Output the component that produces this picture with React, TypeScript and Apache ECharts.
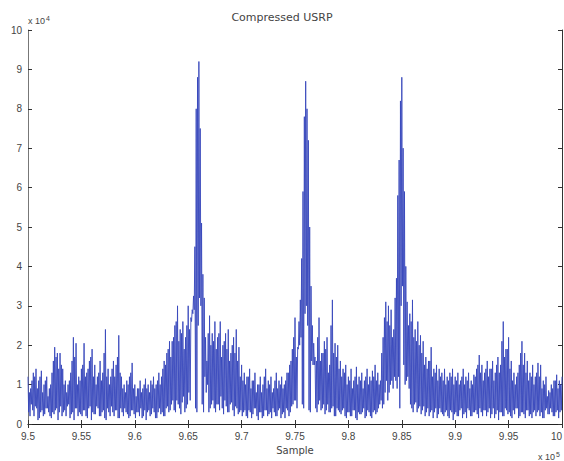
import { useEffect, useRef } from "react";
import * as echarts from "echarts";

const chartTitle = "Compressed USRP";
const xAxisName = "Sample";
// x positions are in units of 10^3 samples (labels shown as ×10^5)
const sampleStart = 950;
const sampleStep = 0.25;
const xMin = 950;
const xMax = 1000;
const xInterval = 5;
const yMin = 0;
const yMax = 10;
const yInterval = 1;

// main upper swings of the signal (×10^4), one per sample step
const highs = [
  1.2, 0.9, 1.3, 1.4, 1.1, 1.35, 1.0, 1.2, 0.9, 1.3,
  1.95, 1.8, 1.8, 1.4, 1.1, 1.0, 1.3, 2.2, 2.05, 1.2,
  1.4, 2.05, 1.3, 1.6, 1.9, 1.5, 1.2, 1.6, 1.3, 2.4,
  1.4, 1.2, 1.6, 1.5, 2.25, 1.2, 1.0, 1.1, 1.2, 1.55,
  1.0, 0.9, 1.1, 0.9, 1.15, 1.0, 1.1, 1.2, 1.0, 1.3,
  1.2, 1.6, 1.8, 2.1, 2.1, 2.5, 3.0, 2.4, 2.6, 2.2,
  3.0, 2.7, 3.25, 8.0, 9.2, 5.1, 3.2, 1.6, 2.75, 2.3,
  2.6, 2.2, 2.6, 2.0, 2.3, 2.4, 1.8, 2.2, 2.4, 1.95,
  1.5, 1.3, 1.2, 1.4, 1.1, 1.3, 1.0, 1.2, 1.0, 1.4,
  1.1, 1.2, 0.9, 1.3, 1.1, 1.2, 1.0, 1.3, 1.5, 1.9,
  2.7, 1.95, 3.15, 5.9, 8.7, 7.2, 3.5, 2.05, 1.6, 2.7,
  1.8, 2.1, 2.2, 1.5, 3.15, 2.05, 2.0, 1.6, 1.4, 1.5,
  1.2, 1.4, 1.1, 1.45, 1.2, 1.3, 1.1, 1.4, 1.2, 1.35,
  1.5, 1.3, 1.1, 2.2, 3.1, 3.0, 2.9, 2.4, 3.7, 6.7,
  8.8, 5.9, 3.1, 2.8, 3.15, 2.4, 2.6, 2.25, 2.1, 1.7,
  1.6, 1.95, 1.4, 1.5, 1.4, 1.3, 1.4, 1.2, 1.3, 1.4,
  1.2, 1.3, 1.1, 1.4, 1.2, 1.3, 1.1, 1.25, 1.4, 1.75,
  1.5, 1.3, 1.6, 1.4, 1.6, 1.3, 1.7, 1.5, 2.6, 1.9,
  2.2, 1.6, 1.3, 1.2, 1.5, 2.1, 1.8, 1.6, 1.3, 1.5,
  1.2, 1.55, 1.5, 1.1, 1.2, 0.85, 1.0, 1.1, 1.25, 1.1,
  1.2,
];

// first lower swing after each high (×10^4)
const lows = [
  0.3, 0.5, 0.2, 0.4, 0.15, 0.35, 0.25, 0.4, 0.2, 0.3,
  0.35, 0.1, 0.45, 0.3, 0.2, 0.5, 0.25, 0.1, 0.4, 0.3,
  0.2, 0.35, 0.15, 0.45, 0.3, 0.25, 0.4, 0.2, 0.35, 0.1,
  0.3, 0.45, 0.2, 0.35, 0.15, 0.3, 0.4, 0.25, 0.2, 0.35,
  0.15, 0.3, 0.4, 0.2, 0.1, 0.35, 0.25, 0.3, 0.15, 0.4,
  0.3, 0.2, 0.45, 0.35, 0.6, 0.3, 0.5, 0.25, 0.7, 0.4,
  0.8, 2.6, 2.9, 0.3, 3.2, 0.5, 1.2, 1.0, 0.4, 0.6,
  0.3, 0.5, 0.7, 0.25, 0.45, 0.3, 0.55, 0.2, 0.4, 0.3,
  0.2, 0.35, 0.15, 0.3, 0.25, 0.4, 0.1, 0.3, 0.2, 0.35,
  0.25, 0.15, 0.3, 0.2, 0.4, 0.25, 0.15, 0.35, 0.3, 0.5,
  0.6, 1.9, 2.2, 0.4, 3.0, 0.35, 1.6, 1.5, 0.3, 0.6,
  0.4, 0.25, 0.5, 0.3, 0.45, 0.2, 0.35, 0.25, 0.4, 0.15,
  0.3, 0.2, 0.35, 0.1, 0.25, 0.3, 0.15, 0.35, 0.2, 0.3,
  0.25, 0.4, 0.6, 0.5, 1.1, 0.8, 1.1, 1.2, 0.9, 0.4,
  3.5, 1.0, 1.2, 0.5, 0.3, 0.55, 0.4, 0.25, 0.45, 0.3,
  0.2, 0.35, 0.3, 0.15, 0.4, 0.25, 0.3, 0.2, 0.35, 0.1,
  0.3, 0.2, 0.4, 0.25, 0.15, 0.35, 0.2, 0.3, 0.25, 0.4,
  0.2, 0.35, 0.3, 0.15, 0.4, 0.25, 0.1, 0.3, 0.2, 0.35,
  0.3, 0.15, 0.25, 0.4, 0.2, 0.3, 0.15, 0.35, 0.25, 0.3,
  0.2, 0.35, 0.3, 0.15, 0.4, 0.25, 0.3, 0.2, 0.35, 0.3,
];

// secondary upper swings between main highs (×10^4)
const mids = [
  0.8, 1.1, 1.2, 0.9, 1.2, 0.8, 1.1, 0.7, 1.0, 1.6,
  1.7, 1.4, 1.5, 1.0, 0.8, 1.1, 1.6, 1.7, 1.0, 1.1,
  1.5, 1.2, 1.4, 1.7, 1.2, 1.0, 1.3, 1.1, 1.8, 1.2,
  1.0, 1.4, 1.2, 1.7, 1.3, 0.9, 0.8, 1.0, 1.3, 0.9,
  0.7, 0.9, 0.8, 1.0, 0.9, 0.8, 1.0, 0.9, 1.1, 1.0,
  1.4, 1.5, 1.9, 1.7, 2.2, 2.6, 2.1, 2.3, 1.9, 2.5,
  2.4, 2.9, 4.5, 8.8, 7.5, 3.8, 2.2, 2.3, 2.0, 2.1,
  1.9, 2.3, 1.7, 2.1, 1.9, 1.6, 2.0, 1.8, 1.6, 1.2,
  1.1, 1.0, 1.2, 0.9, 1.1, 0.8, 1.0, 0.8, 1.2, 0.9,
  1.0, 0.8, 1.1, 0.9, 1.0, 0.9, 1.1, 1.3, 1.6, 2.2,
  1.7, 2.6, 4.2, 7.8, 8.0, 5.0, 2.5, 1.7, 2.2, 1.6,
  1.8, 1.9, 1.3, 2.5, 1.8, 1.7, 1.4, 1.2, 1.3, 1.0,
  1.1, 0.9, 1.2, 1.0, 1.1, 0.9, 1.2, 1.0, 1.1, 1.2,
  1.1, 1.0, 1.8, 2.7, 2.6, 2.5, 2.2, 3.2, 5.8, 8.2,
  7.0, 4.0, 2.5, 2.6, 2.2, 2.1, 2.0, 1.8, 1.5, 1.4,
  1.6, 1.2, 1.3, 1.1, 1.2, 1.1, 1.0, 1.1, 1.2, 1.0,
  1.1, 1.0, 1.2, 1.0, 1.1, 0.9, 1.0, 1.2, 1.5, 1.3,
  1.1, 1.4, 1.2, 1.4, 1.1, 1.5, 1.3, 2.1, 1.7, 1.9,
  1.4, 1.1, 1.0, 1.3, 1.8, 1.5, 1.3, 1.1, 1.2, 1.0,
  1.3, 1.2, 0.9, 1.0, 0.7, 0.8, 0.9, 1.1, 0.9, 1.0,
];

// second lower swing after each secondary high (×10^4)
const lows2 = [
  0.2, 0.35, 0.45, 0.1, 0.3, 0.2, 0.4, 0.3, 0.15, 0.25,
  0.4, 0.3, 0.2, 0.35, 0.45, 0.15, 0.3, 0.4, 0.2, 0.25,
  0.35, 0.2, 0.4, 0.1, 0.25, 0.45, 0.2, 0.3, 0.15, 0.4,
  0.2, 0.3, 0.35, 0.15, 0.4, 0.2, 0.3, 0.15, 0.35, 0.25,
  0.3, 0.2, 0.15, 0.35, 0.3, 0.2, 0.4, 0.15, 0.3, 0.25,
  0.2, 0.4, 0.3, 0.5, 0.35, 0.6, 0.4, 0.55, 0.3, 0.5,
  0.6, 2.8, 0.4, 2.5, 3.0, 0.3, 0.8, 0.3, 0.5, 0.4,
  0.5, 0.35, 0.4, 0.6, 0.3, 0.5, 0.35, 0.45, 0.25, 0.35,
  0.3, 0.2, 0.35, 0.15, 0.4, 0.2, 0.3, 0.15, 0.35, 0.2,
  0.3, 0.4, 0.2, 0.35, 0.15, 0.3, 0.4, 0.2, 0.45, 0.6,
  0.4, 2.0, 0.5, 2.8, 2.5, 0.3, 1.5, 0.4, 0.5, 0.35,
  0.5, 0.35, 0.3, 0.4, 0.2, 0.4, 0.3, 0.35, 0.2, 0.3,
  0.2, 0.35, 0.15, 0.3, 0.25, 0.4, 0.2, 0.3, 0.15, 0.35,
  0.3, 0.5, 0.4, 0.8, 0.6, 1.0, 0.9, 1.1, 1.2, 3.0,
  1.5, 1.1, 0.9, 0.4, 0.5, 0.3, 0.45, 0.35, 0.2, 0.4,
  0.3, 0.15, 0.4, 0.25, 0.3, 0.2, 0.35, 0.15, 0.3, 0.25,
  0.2, 0.35, 0.15, 0.3, 0.4, 0.2, 0.3, 0.35, 0.15, 0.3,
  0.35, 0.2, 0.4, 0.25, 0.15, 0.35, 0.3, 0.2, 0.4, 0.25,
  0.2, 0.35, 0.4, 0.15, 0.3, 0.25, 0.35, 0.2, 0.15, 0.35,
  0.3, 0.2, 0.15, 0.35, 0.25, 0.4, 0.2, 0.3, 0.15, 0.35,
];

const FONT = "'Liberation Sans', Arial, sans-serif";
const WIDE_FONT = "'DejaVu Sans', Verdana, sans-serif";

export default function App() {
  const ref = useRef<HTMLDivElement>(null);

  useEffect(() => {
    if (!ref.current) return;
    const chart = echarts.init(ref.current, undefined, { renderer: "svg" });

    const signal: [number, number][] = [];
    const q = sampleStep / 4;
    highs.forEach((h, i) => {
      const x = sampleStart + i * sampleStep;
      signal.push([x, h]);
      if (i < lows.length) {
        signal.push([x + q, lows[i]]);
        signal.push([x + 2 * q, mids[i]]);
        signal.push([x + 3 * q, lows2[i]]);
      }
    });

    const labelStyle = { fontSize: 10, color: "#444", fontFamily: FONT };
    const supRich = {
      a: { fontSize: 9, fill: "#444", fontFamily: FONT },
      b: { fontSize: 7, fill: "#444", fontFamily: FONT, verticalAlign: "top", padding: [0, 0, 5, 1] },
    };

    chart.setOption({
      animation: false,
      backgroundColor: "#fff",
      title: {
        text: chartTitle,
        left: "center",
        top: 7,
        textStyle: { fontSize: 11, fontWeight: "normal", color: "#444", fontFamily: WIDE_FONT },
      },
      grid: { left: 28, right: 2, top: 30, bottom: 37, containLabel: false, outerBoundsMode: "none" },
      xAxis: [
        {
          type: "value",
          min: xMin,
          max: xMax,
          interval: xInterval,
          name: xAxisName,
          nameLocation: "middle",
          nameGap: 21,
          nameTextStyle: { fontSize: 10, color: "#444", fontFamily: WIDE_FONT },
          axisLine: { show: true, lineStyle: { color: "#666", width: 1 } },
          axisTick: { show: true, inside: true, length: 4, lineStyle: { color: "#333" } },
          axisLabel: {
            ...labelStyle,
            margin: 7,
            alignMaxLabel: "right",
            formatter: (v: number) => String(v / 100),
          },
          splitLine: { show: false },
        },
        {
          type: "value",
          position: "top",
          min: xMin,
          max: xMax,
          interval: xInterval,
          axisLine: { show: true, lineStyle: { color: "#222", width: 1 } },
          axisTick: { show: true, inside: true, length: 4, lineStyle: { color: "#333" } },
          axisLabel: { show: false },
          splitLine: { show: false },
        },
      ],
      yAxis: [
        {
          type: "value",
          min: yMin,
          max: yMax,
          interval: yInterval,
          axisLine: { show: true, lineStyle: { color: "#777", width: 1 } },
          axisTick: { show: true, inside: true, length: 4, lineStyle: { color: "#333" } },
          axisLabel: { ...labelStyle, margin: 6 },
          splitLine: { show: false },
        },
        {
          type: "value",
          position: "right",
          min: yMin,
          max: yMax,
          interval: yInterval,
          axisLine: { show: true, lineStyle: { color: "#333", width: 1 } },
          axisTick: { show: true, inside: true, length: 4, lineStyle: { color: "#333" } },
          axisLabel: { show: false },
          splitLine: { show: false },
        },
      ],
      graphic: [
        { type: "text", left: 28, top: 15, style: { text: "{a|x 10}{b|4}", rich: supRich } },
        { type: "text", left: 538, top: 451, style: { text: "{a|x 10}{b|5}", rich: supRich } },
      ],
      series: [
        {
          type: "line",
          data: signal,
          xAxisIndex: 0,
          yAxisIndex: 0,
          showSymbol: false,
          symbol: "none",
          lineStyle: { width: 1, color: "#3747bb", opacity: 0.9 },
        },
      ],
    });

    return () => chart.dispose();
  }, []);

  return (
    <div
      ref={ref}
      style={{ position: "absolute", left: 0, top: 0, width: 564, height: 461, background: "#fff" }}
    />
  );
}
